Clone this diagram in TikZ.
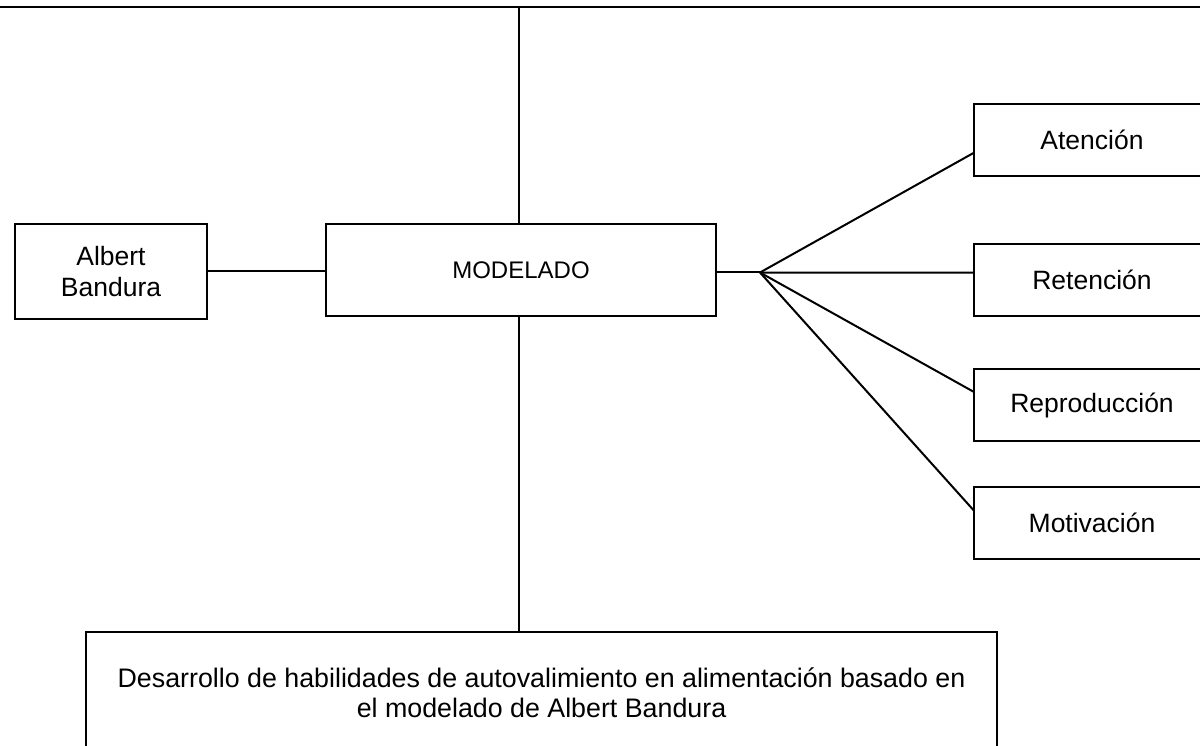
\documentclass[tikz,border=0pt]{standalone}
\usepackage{fontspec}
\setmainfont{Liberation Sans}
\begin{document}
\begin{tikzpicture}[x=1pt,y=-1pt,line width=2pt,
  box/.style={draw=black,line width=2pt,inner sep=0pt,outer sep=0pt,align=center,
    font=\fontsize{26.5}{31}\selectfont},
  conn/.style={draw=black,line width=2pt}]
\useasboundingbox (0,0) rectangle (1200,746);
\clip (0,0) rectangle (1200,746);
\fill[white] (0,0) rectangle (1200,746);
% nodes
\node[box,minimum width=192pt,minimum height=95pt] (alb) at (111,271.5) {Albert\\Bandura};
\node[box,minimum width=390pt,minimum height=92pt,font=\fontsize{24}{29}\selectfont] (mod) at (521,270) {MODELADO};
\node[box,minimum width=236pt,minimum height=72pt] (aten) at (1092,140) {Atención};
\node[box,minimum width=236pt,minimum height=72pt] (ret) at (1092,280) {Retención};
\node[box,minimum width=236pt,minimum height=72pt] (rep) at (1092,405) {Reproducción};
\node[box,minimum width=236pt,minimum height=72pt] (mot) at (1092,523) {Motivación};
\node[box,minimum width=911pt,minimum height=121pt,font=\fontsize{26.8}{30}\selectfont] (bot) at (541.5,692.5)
  {Desarrollo de habilidades de autovalimiento en alimentación basado en\\el modelado de Albert Bandura};
% coordinates
\coordinate (tl) at (-5,7);
\coordinate (tr) at (1205,7);
\coordinate (tv) at (519,7);
\coordinate (hub) at (760,272.5);
% connectors
\draw[conn] (tl) -- (tr);
\draw[conn] (tv) -- (tv |- mod.north);
\draw[conn] (mod.south -| tv) -- (tv |- bot.north);
\draw[conn] (alb.east) -- (alb.east -| mod.west);
\draw[conn] (mod.east |- hub) -- (hub);
\draw[conn] (hub) -- ([yshift=-12.7pt]aten.west);
\draw[conn] (hub) -- ([yshift=7.3pt]ret.west);
\draw[conn] (hub) -- ([yshift=13pt]rep.west);
\draw[conn] (hub) -- ([yshift=12.3pt]mot.west);
\end{tikzpicture}
\end{document}
